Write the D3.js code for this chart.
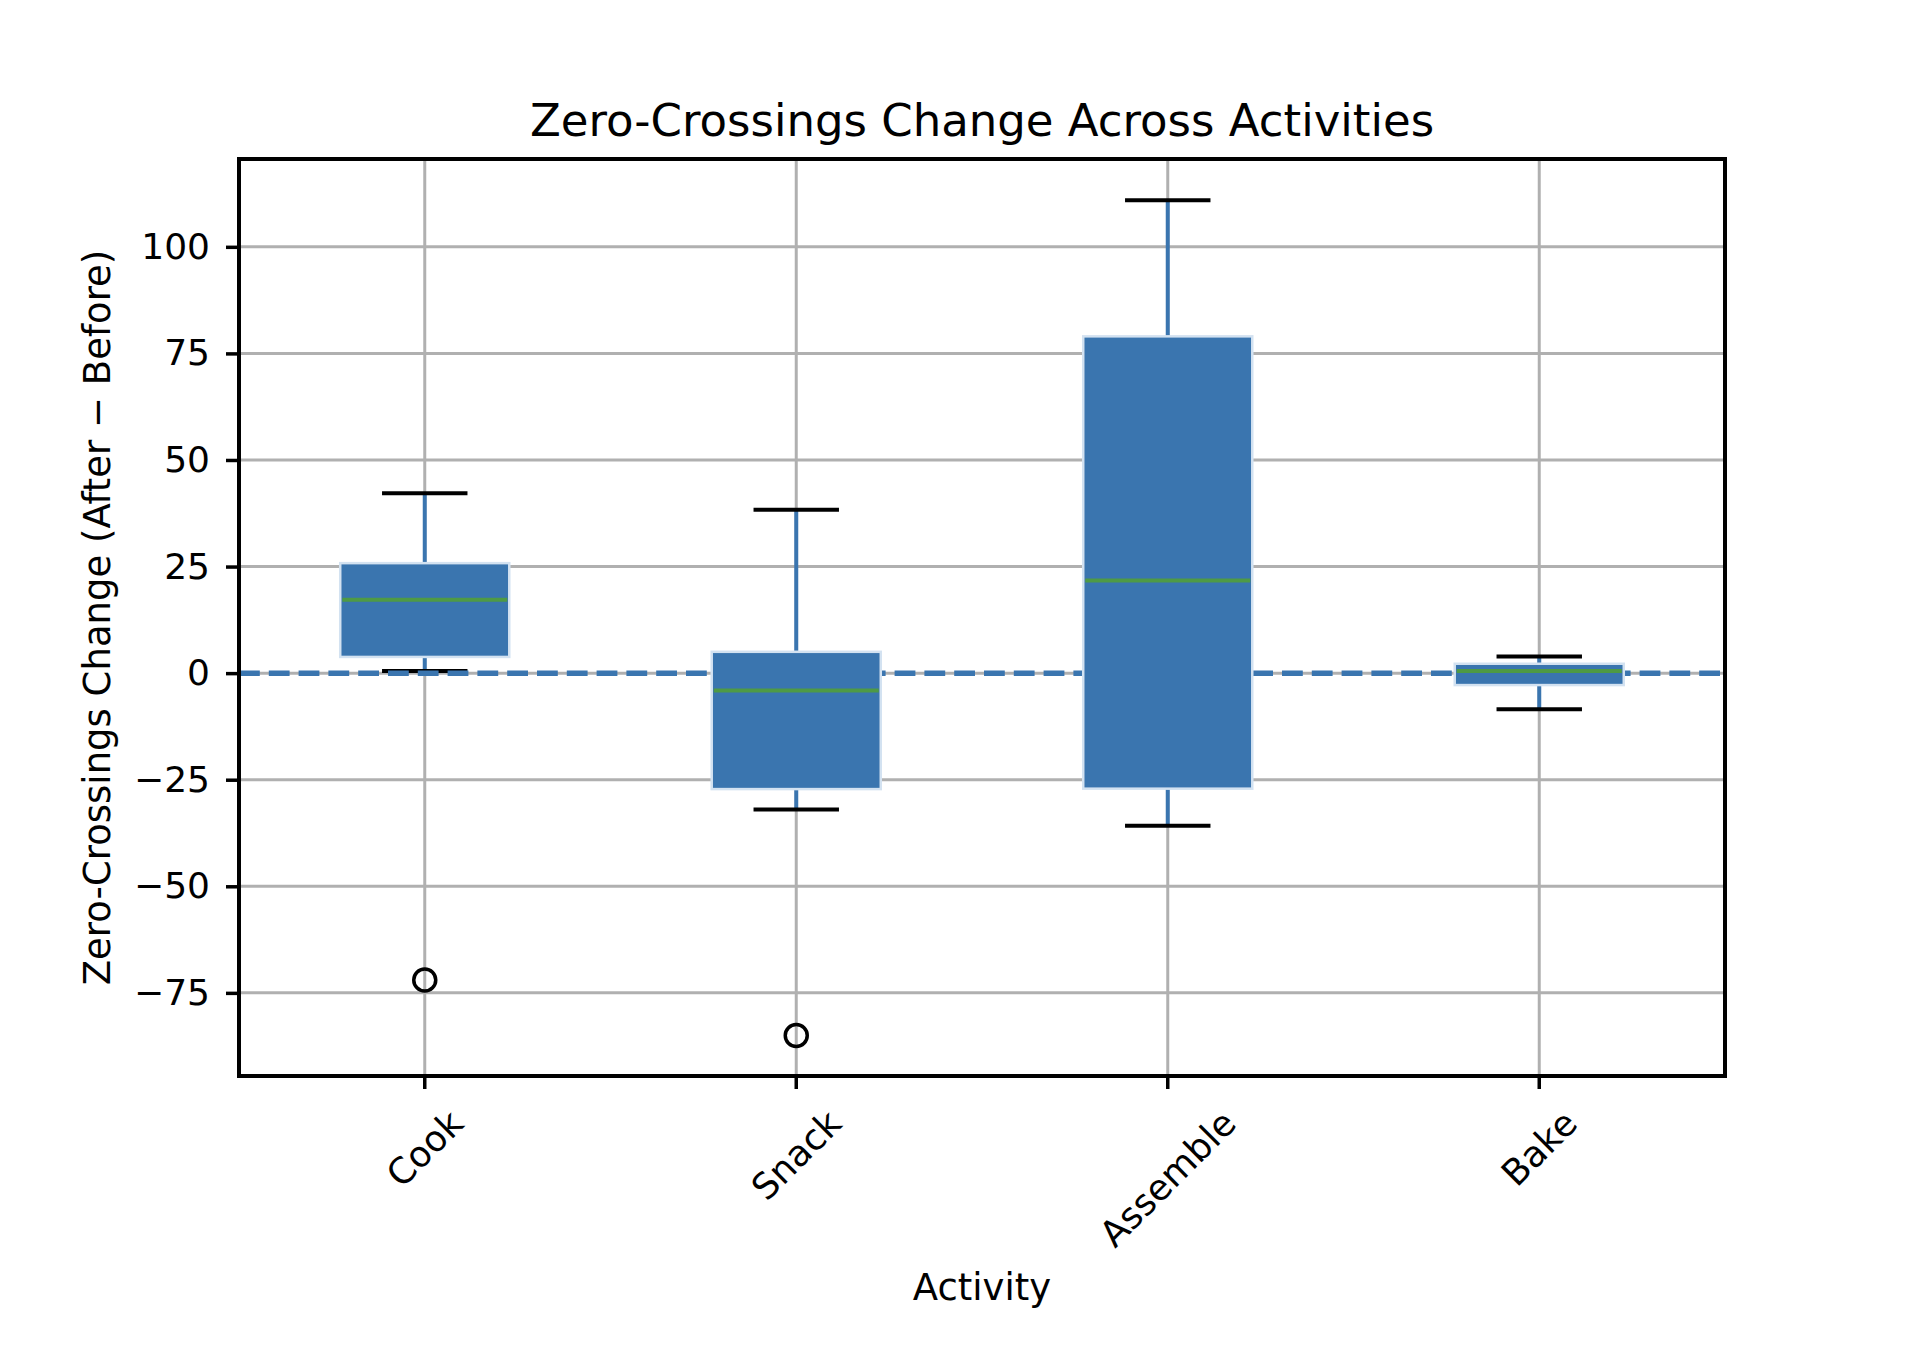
<!DOCTYPE html>
<html>
<head>
<meta charset="utf-8">
<script src="https://cdn.jsdelivr.net/npm/d3@7"></script>
<style>
  body { margin: 0; background: #fff; }
  text { font-family: "DejaVu Sans", sans-serif; fill: #000; }
</style>
</head>
<body>
<div id="chart"></div>
<script>
// box plot of zero-crossing change per activity

var categories = ["Cook", "Snack", "Assemble", "Bake"];
var whiskerLow = [0.5, -32, -35.8, -8.5];
var q1 = [3.8, -27.2, -27.1, -2.8];
var medians = [17.2, -4.1, 21.7, 0.5];
var q3 = [25.8, 5.0, 79.0, 2.2];
var whiskerHigh = [42.2, 38.3, 110.9, 3.9];
var outliers = [[-72], [-85], [], []];
var yTicks = [-75, -50, -25, 0, 25, 50, 75, 100];

var boxes = categories.map(function(c, i) {
    return {name: c, lo: whiskerLow[i], q1: q1[i], med: medians[i], q3: q3[i], hi: whiskerHigh[i], out: outliers[i]};
});

var margin = {top: 159, right: 201, bottom: 276, left: 239},
    width = 1926 - margin.left - margin.right,
    height = 1352 - margin.top - margin.bottom;

var blue = "#3a75af";
var tickFont = 36;

var svg = d3.select("#chart").append("svg")
    .attr("width", 1926)
    .attr("height", 1352);

svg.append("rect").attr("width", 1926).attr("height", 1352).attr("fill", "#fff");

var g = svg.append("g")
    .attr("transform", "translate(" + margin.left + "," + margin.top + ")");

var x = d3.scaleBand()
    .domain(categories)
    .range([0, width])
    .padding(0);

var y = d3.scaleLinear()
    .domain([-94.5, 120.6])
    .range([height, 0]);

var bw = x.bandwidth();
function cx(d) { return x(d.name) + bw / 2; }

// grid
g.append("g").selectAll("line.hgrid")
    .data(yTicks).enter().append("line")
    .attr("x1", 0).attr("x2", width)
    .attr("y1", function(d) { return y(d); })
    .attr("y2", function(d) { return y(d); })
    .attr("stroke", "#b0b0b0").attr("stroke-width", 3);

g.append("g").selectAll("line.vgrid")
    .data(boxes).enter().append("line")
    .attr("x1", cx).attr("x2", cx)
    .attr("y1", 0).attr("y2", height)
    .attr("stroke", "#b0b0b0").attr("stroke-width", 3);

// whiskers + caps
var capW = bw * 0.23;
var wh = g.append("g").selectAll("g")
    .data(boxes).enter().append("g");

wh.append("line")
    .attr("x1", cx).attr("x2", cx)
    .attr("y1", function(d) { return y(d.hi); })
    .attr("y2", function(d) { return y(d.q3); })
    .attr("stroke", blue).attr("stroke-width", 4);
wh.append("line")
    .attr("x1", cx).attr("x2", cx)
    .attr("y1", function(d) { return y(d.q1); })
    .attr("y2", function(d) { return y(d.lo); })
    .attr("stroke", blue).attr("stroke-width", 4);
wh.append("line")
    .attr("x1", function(d) { return cx(d) - capW / 2; })
    .attr("x2", function(d) { return cx(d) + capW / 2; })
    .attr("y1", function(d) { return y(d.hi); })
    .attr("y2", function(d) { return y(d.hi); })
    .attr("stroke", "#000").attr("stroke-width", 4);
wh.append("line")
    .attr("x1", function(d) { return cx(d) - capW / 2; })
    .attr("x2", function(d) { return cx(d) + capW / 2; })
    .attr("y1", function(d) { return y(d.lo); })
    .attr("y2", function(d) { return y(d.lo); })
    .attr("stroke", "#000").attr("stroke-width", 4);

// zero reference line
g.append("line")
    .attr("x1", 0).attr("x2", width)
    .attr("y1", y(0)).attr("y2", y(0))
    .attr("stroke", blue)
    .attr("stroke-width", 5.5)
    .attr("stroke-dasharray", "20.8,9");

// boxes
var boxW = bw * 0.455;
g.append("g").selectAll("rect")
    .data(boxes).enter().append("rect")
    .attr("x", function(d) { return cx(d) - boxW / 2; })
    .attr("y", function(d) { return y(d.q3); })
    .attr("width", boxW)
    .attr("height", function(d) { return y(d.q1) - y(d.q3); })
    .attr("fill", blue)
    .attr("stroke", "#d3e2f1")
    .attr("stroke-width", 2.5);

g.append("g").selectAll("line")
    .data(boxes).enter().append("line")
    .attr("x1", function(d) { return cx(d) - boxW / 2 + 2; })
    .attr("x2", function(d) { return cx(d) + boxW / 2 - 2; })
    .attr("y1", function(d) { return y(d.med); })
    .attr("y2", function(d) { return y(d.med); })
    .attr("stroke", "#4e9a45").attr("stroke-width", 4);

// fliers
var fliers = [];
boxes.forEach(function(d) {
    d.out.forEach(function(v) { fliers.push({name: d.name, v: v}); });
});
g.append("g").selectAll("circle")
    .data(fliers).enter().append("circle")
    .attr("cx", cx)
    .attr("cy", function(d) { return y(d.v); })
    .attr("r", 11)
    .attr("fill", "none")
    .attr("stroke", "#000")
    .attr("stroke-width", 3.5);

// frame
g.append("rect")
    .attr("width", width).attr("height", height)
    .attr("fill", "none").attr("stroke", "#000").attr("stroke-width", 4);

// axes
var yAxis = g.append("g")
    .call(d3.axisLeft(y).tickValues(yTicks).tickSize(13).tickPadding(16));
yAxis.select(".domain").remove();
yAxis.selectAll("line").attr("stroke", "#000").attr("stroke-width", 3.5);
yAxis.selectAll("text").style("font-size", tickFont + "px").style("font-family", "DejaVu Sans");

var xAxis = g.append("g")
    .attr("transform", "translate(0," + height + ")")
    .call(d3.axisBottom(x).tickSize(13));
xAxis.select(".domain").remove();
xAxis.selectAll("line").attr("stroke", "#000").attr("stroke-width", 3.5);
xAxis.selectAll("text")
    .style("font-size", tickFont + "px")
    .style("font-family", "DejaVu Sans")
    .attr("dy", null)
    .attr("text-anchor", "middle")
    .attr("dominant-baseline", "central")
    .attr("transform", function() {
        var len = this.getComputedTextLength(), h = tickFont * 1.164;
        var off = 13 + 13 + (len + h) / (2 * Math.SQRT2);
        return "translate(0," + off + ") rotate(-45)";
    })
    .attr("y", 0);

// labels
svg.append("text")
    .attr("x", margin.left + width / 2)
    .attr("y", 136)
    .attr("text-anchor", "middle")
    .style("font-size", "45px")
    .text("Zero-Crossings Change Across Activities");

svg.append("text")
    .attr("x", margin.left + width / 2)
    .attr("y", 1300)
    .attr("text-anchor", "middle")
    .style("font-size", "37px")
    .text("Activity");

svg.append("text")
    .attr("transform", "translate(110," + (margin.top + height / 2) + ") rotate(-90)")
    .attr("text-anchor", "middle")
    .style("font-size", "37px")
    .text("Zero-Crossings Change (After \u2212 Before)");
</script>
</body>
</html>
